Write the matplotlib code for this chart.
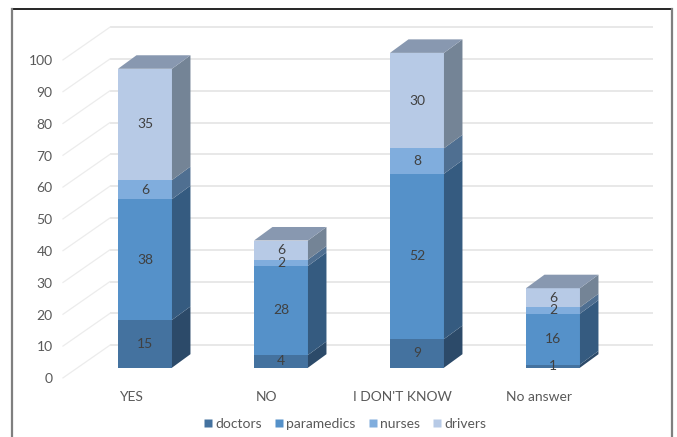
import matplotlib
matplotlib.use("Agg")
import matplotlib.pyplot as plt
from matplotlib.patches import Polygon
from matplotlib.lines import Line2D
import numpy as np

# ---- data ----
categories = ["YES", "NO", "I DON'T KNOW", "No answer"]
series_names = ["doctors", "paramedics", "nurses", "drivers"]
doctors = [15, 4, 9, 1]
paramedics = [38, 28, 52, 16]
nurses = [6, 2, 8, 2]
drivers = [35, 6, 30, 6]
y_ticks = [0, 10, 20, 30, 40, 50, 60, 70, 80, 90, 100]

series = [doctors, paramedics, nurses, drivers]

# ---- styling ----
front_colors = ["#44729f", "#5591c9", "#80addd", "#b7cae6"]
side_colors = ["#2c4a69", "#355b80", "#4f6f91", "#748496"]
top_color = "#8898b0"
text_color = "#595959"
label_color = "#404040"
grid_color = "#e6e6e6"
font = "Lato"
fs = 10

W, H = 677, 437
fig = plt.figure(figsize=(W / 100, H / 100), dpi=100)
ax = fig.add_axes([0, 0, 1, 1])
ax.set_xlim(-1.066, 3.912)
ax.set_ylim(-21.79, 115.63)
ax.axis("off")

# projection parameters (in data units)
bar_w = 0.397
depth_dx = 0.136      # horizontal depth shift of bar side/top
depth_dy = 4.25       # vertical depth shift of bar side/top
back_shift = 7.1      # back wall offset relative to bar front plane
front_shift = -3.2    # side wall front edge relative to bar front plane
wall_x0, wall_x1 = -0.603, -0.257
wall_right = 3.735

# back-wall gridlines and side-wall lines
for v in y_ticks:
    ax.plot([wall_x1, wall_right], [v + back_shift] * 2, color=grid_color,
            lw=1.3, zorder=1, solid_capstyle="butt")
    ax.plot([wall_x0, wall_x1], [v + front_shift, v + back_shift],
            color="#ececec", lw=0.9, zorder=1)
    ax.text(-0.68, v + front_shift - 0.4, str(v), ha="right", va="center",
            fontsize=fs, color=text_color, family=font)

x = np.arange(len(categories))
bottoms = np.zeros(len(categories))
totals = np.sum(series, axis=0)

for s_idx, vals in enumerate(series):
    vals = np.array(vals, dtype=float)
    ax.bar(x, vals, bottom=bottoms, width=bar_w, color=front_colors[s_idx],
           edgecolor="none", zorder=3)
    for i in range(len(categories)):
        x1 = x[i] + bar_w / 2
        y0 = bottoms[i]
        y1 = bottoms[i] + vals[i]
        side = Polygon([(x1, y0), (x1 + depth_dx, y0 + depth_dy),
                        (x1 + depth_dx, y1 + depth_dy), (x1, y1)],
                       closed=True, facecolor=side_colors[s_idx],
                       edgecolor="none", zorder=3)
        ax.add_patch(side)
        ax.text(x[i], (y0 + y1) / 2, f"{int(vals[i])}", ha="center",
                va="center", fontsize=fs, color=label_color, family=font,
                zorder=5)
    bottoms = bottoms + vals

# top faces
for i in range(len(categories)):
    x0 = x[i] - bar_w / 2
    x1 = x[i] + bar_w / 2
    t = totals[i]
    top = Polygon([(x0, t), (x1, t), (x1 + depth_dx, t + depth_dy),
                   (x0 + depth_dx, t + depth_dy)], closed=True,
                  facecolor=top_color, edgecolor="none", zorder=3)
    ax.add_patch(top)

# category labels
for i, c in enumerate(categories):
    ax.text(x[i] - 0.105, -9.2, c, ha="center", va="center", fontsize=fs,
            color=text_color, family=font)

# legend
handles = [Line2D([], [], marker="s", linestyle="none", markersize=5.5,
                  markerfacecolor=front_colors[k], markeredgecolor="none")
           for k in range(len(series_names))]
leg = fig.legend(handles, series_names, loc="center", ncol=4,
                 bbox_to_anchor=(345 / W, 1 - 424 / H), frameon=False,
                 handlelength=0.6, handletextpad=0.2, columnspacing=0.95,
                 prop={"family": font, "size": fs})
for t in leg.get_texts():
    t.set_color(text_color)

# outer frame
fig.add_artist(Line2D([12 / W, 672 / W], [1 - 9 / H, 1 - 9 / H],
                      color="black", lw=1.2, transform=fig.transFigure))
fig.add_artist(Line2D([12 / W, 12 / W], [0, 1 - 9 / H], color="#7f7f7f",
                      lw=1.6, transform=fig.transFigure))
fig.add_artist(Line2D([672 / W, 672 / W], [0, 1 - 9 / H], color="#7f7f7f",
                      lw=1.6, transform=fig.transFigure))

fig.savefig("out.png", dpi=100)
